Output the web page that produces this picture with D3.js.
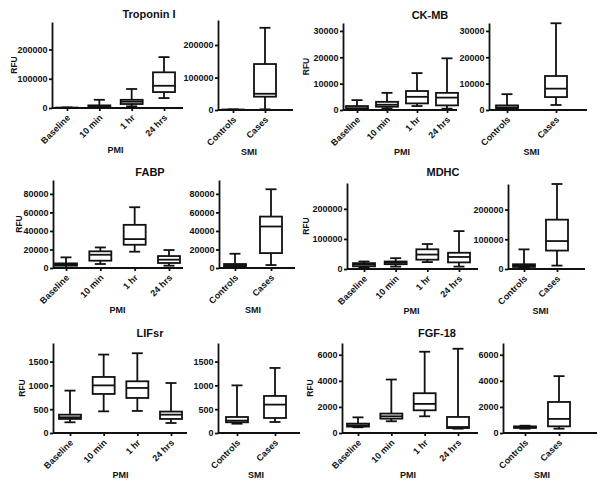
<!DOCTYPE html>
<html>
<head>
<meta charset="utf-8">
<script src="https://cdn.jsdelivr.net/npm/d3@7"></script>
<style>
  body { margin: 0; background: #fff; }
  svg text { font-family: "Liberation Sans", Arial, sans-serif; font-weight: bold; fill: #111; }
</style>
</head>
<body>
<svg id="chart" width="602" height="490"></svg>
<script>
// box stats, each row is [min, q1, median, q3, max]
const pmiGroups = ["Baseline", "10 min", "1 hr", "24 hrs"];
const smiGroups = ["Controls", "Cases"];

const troponinPMI = [[0, 300, 700, 1200, 2000], [0, 2300, 5700, 9000, 28000], [5700, 13600, 21500, 28000, 65000], [34000, 54500, 76000, 122000, 174000]];
const troponinSMI = [[0, 300, 700, 1200, 2000], [2000, 41000, 50000, 141500, 253000]];
const troponinTicks = [0, 100000, 200000];

const ckmbPMI = [[0, 250, 700, 1500, 3750], [600, 1250, 2000, 3100, 6500], [1500, 2500, 5000, 7200, 14000], [500, 1750, 4700, 6500, 19600]];
const ckmbSMI = [[0, 500, 1000, 1750, 6000], [1900, 4900, 8100, 12900, 32900]];
const ckmbTicks = [0, 10000, 20000, 30000];

const fabpPMI = [[0, 2500, 4000, 5000, 11500], [4300, 7900, 14300, 18000, 22200], [17600, 25100, 31200, 46600, 65600], [2500, 5400, 9000, 12900, 19400]];
const fabpSMI = [[0, 1800, 3200, 4300, 15400], [3200, 16100, 44800, 55500, 85000]];
const fabpTicks = [0, 20000, 40000, 60000, 80000];

const mdhcPMI = [[6000, 9000, 15000, 19500, 25000], [8000, 16000, 20700, 25000, 36000], [23000, 31000, 48000, 65500, 83000], [8000, 22000, 40000, 54000, 126000]];
const mdhcSMI = [[4500, 7000, 11500, 16000, 66000], [11500, 62000, 94000, 166000, 286000]];
const mdhcTicks = [0, 100000, 200000];

const lifsrPMI = [[225, 295, 330, 385, 890], [455, 820, 1000, 1177, 1647], [463, 736, 946, 1086, 1675], [210, 295, 385, 450, 1050]];
const lifsrSMI = [[195, 225, 260, 336, 1000], [231, 315, 596, 778, 1366]];
const lifsrTicks = [0, 500, 1000, 1500];

const fgfPMI = [[440, 490, 590, 720, 1200], [900, 1100, 1280, 1490, 4100], [1280, 1740, 2230, 3050, 6230], [330, 380, 460, 1230, 6460]];
const fgfSMI = [[330, 385, 460, 510, 560], [330, 510, 1080, 2380, 4360]];
const fgfTicks = [0, 2000, 4000, 6000];

// page layout: where each little graph sits (x0 = y axis, x1 = end of x axis, c0/c1 = first/last box centre)
const panels = [
  { title: "Troponin I", pmi: troponinPMI, smi: troponinSMI, ticks: troponinTicks, tx: 149, ty: 18, rfuX: 14,
    a: { x0: 52, x1: 183, c0: 67, c1: 164, top: 22, bot: 108, max: 294000 },
    b: { x0: 218, x1: 293, c0: 233, c1: 265, top: 20, bot: 110, max: 277000 } },
  { title: "CK-MB", pmi: ckmbPMI, smi: ckmbSMI, ticks: ckmbTicks, tx: 430, ty: 19, rfuX: 306,
    a: { x0: 343, x1: 457, c0: 357, c1: 447, top: 23, bot: 110, max: 33000 },
    b: { x0: 489, x1: 587, c0: 507, c1: 556, top: 23, bot: 110, max: 33000 } },
  { title: "FABP", pmi: fabpPMI, smi: fabpSMI, ticks: fabpTicks, tx: 150, ty: 176, rfuX: 19,
    a: { x0: 53, x1: 183, c0: 66, c1: 169, top: 180, bot: 268, max: 95000 },
    b: { x0: 219, x1: 295, c0: 235, c1: 271, top: 180, bot: 268, max: 95000 } },
  { title: "MDHC", pmi: mdhcPMI, smi: mdhcSMI, ticks: mdhcTicks, tx: 443, ty: 176, rfuX: 306,
    a: { x0: 347, x1: 478, c0: 364, c1: 459, top: 183, bot: 269, max: 286000 },
    b: { x0: 508, x1: 585, c0: 524, c1: 557, top: 184, bot: 269, max: 286000 } },
  { title: "LIFsr", pmi: lifsrPMI, smi: lifsrSMI, ticks: lifsrTicks, tx: 150, ty: 337, rfuX: 22,
    a: { x0: 53, x1: 187, c0: 70, c1: 171, top: 343, bot: 433, max: 1890 },
    b: { x0: 218, x1: 300, c0: 237, c1: 275, top: 343, bot: 433, max: 1890 } },
  { title: "FGF-18", pmi: fgfPMI, smi: fgfSMI, ticks: fgfTicks, tx: 437, ty: 337, rfuX: 310,
    a: { x0: 342, x1: 478, c0: 358, c1: 458, top: 343, bot: 433, max: 6900 },
    b: { x0: 503, x1: 597, c0: 525, c1: 559, top: 343, bot: 433, max: 6900 } }
];

const svg = d3.select("#chart");
const LW = 1.8;
const boxW = 22;

function drawPlot(g, groups, stats, L, ticks, label) {
  const y = d3.scaleLinear().domain([0, L.max]).range([L.bot, L.top]);
  const x = d3.scalePoint().domain(groups).range([L.c0, L.c1]);

  // y axis
  const ya = g.append("g")
    .attr("transform", `translate(${L.x0},0)`)
    .call(d3.axisLeft(y).tickValues(ticks).tickSize(3).tickSizeOuter(0).tickPadding(1.5).tickFormat(d3.format("d")));
  ya.select(".domain").attr("stroke", "#111").attr("stroke-width", LW);
  ya.selectAll(".tick line").attr("stroke", "#111").attr("stroke-width", LW);
  ya.selectAll(".tick text").attr("font-size", 9).attr("font-family", null);

  // x axis (line drawn by hand so it can run past the last box)
  g.append("line")
    .attr("x1", L.x0).attr("x2", L.x1)
    .attr("y1", L.bot).attr("y2", L.bot)
    .attr("stroke", "#111").attr("stroke-width", LW);

  const xa = g.append("g")
    .attr("transform", `translate(0,${L.bot})`)
    .call(d3.axisBottom(x).tickSize(3));
  xa.select(".domain").remove();
  xa.selectAll(".tick line").attr("stroke", "#111").attr("stroke-width", LW);
  xa.selectAll(".tick text")
    .attr("font-size", 9).attr("font-family", null)
    .attr("x", 0).attr("y", 0).attr("dy", "0.35em")
    .attr("text-anchor", "end")
    .attr("transform", "translate(1,8) rotate(-45)");

  // boxes
  const box = g.append("g")
    .selectAll("g")
    .data(stats.map((s, i) => ({ key: groups[i], s })))
    .join("g")
    .attr("transform", d => `translate(${x(d.key)},0)`)
    .attr("stroke", "#111").attr("stroke-width", LW).attr("fill", "none");

  box.append("line") // whisker
    .attr("x1", 0).attr("x2", 0)
    .attr("y1", d => y(d.s[0])).attr("y2", d => y(d.s[4]));
  box.append("line")
    .attr("x1", -boxW / 4).attr("x2", boxW / 4)
    .attr("y1", d => y(d.s[4])).attr("y2", d => y(d.s[4]));
  box.append("line")
    .attr("x1", -boxW / 4).attr("x2", boxW / 4)
    .attr("y1", d => y(d.s[0])).attr("y2", d => y(d.s[0]));
  box.append("rect")
    .attr("x", -boxW / 2).attr("width", boxW)
    .attr("y", d => y(d.s[3]))
    .attr("height", d => y(d.s[1]) - y(d.s[3]))
    .attr("fill", "#fff");
  box.append("line") // median
    .attr("x1", -boxW / 2).attr("x2", boxW / 2)
    .attr("y1", d => y(d.s[2])).attr("y2", d => y(d.s[2]));

  g.append("text")
    .attr("x", (L.c0 + L.c1) / 2)
    .attr("y", L.bot + 45)
    .attr("text-anchor", "middle")
    .attr("font-size", 9)
    .text(label);
}

panels.forEach(p => {
  const g = svg.append("g");
  g.append("text")
    .attr("x", p.tx).attr("y", p.ty)
    .attr("text-anchor", "middle")
    .attr("font-size", 11)
    .text(p.title);

  g.append("text")
    .attr("transform", `translate(${p.rfuX},${(p.a.top + p.a.bot) / 2}) rotate(-90)`)
    .attr("text-anchor", "middle")
    .attr("dy", "0.35em")
    .attr("font-size", 8.5)
    .text("RFU");

  drawPlot(g.append("g"), pmiGroups, p.pmi, p.a, p.ticks, "PMI");
  drawPlot(g.append("g"), smiGroups, p.smi, p.b, p.ticks, "SMI");
});
</script>
</body>
</html>
